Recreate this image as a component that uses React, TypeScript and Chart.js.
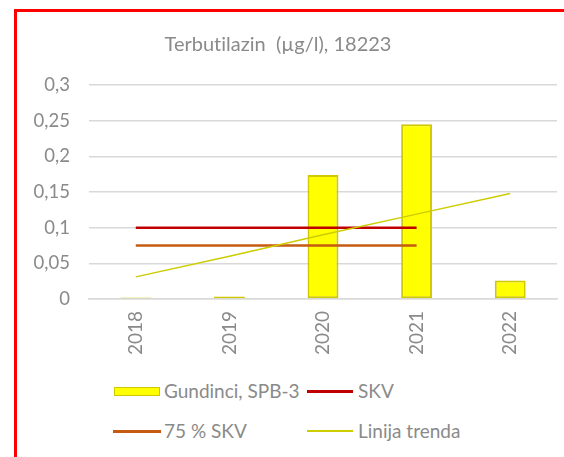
import React, { useEffect, useRef } from "react";
import { Chart, registerables } from "chart.js";

Chart.register(...registerables);

const categories = ["2018", "2019", "2020", "2021", "2022"];
const barValues = [0.002, 0.0035, 0.174, 0.245, 0.026];
const skvValues = [0.1, 0.1, 0.1, 0.1, null];
const skv75Values = [0.075, 0.075, 0.075, 0.075, null];
const trendValues = [0.031, 0.06, 0.09, 0.119, 0.148];
const yTicks = [0, 0.05, 0.1, 0.15, 0.2, 0.25, 0.3];

const FONT = "Lato, 'Open Sans', sans-serif";
const GRAY = "#8a8a8a";

export default function App() {
  const ref = useRef<HTMLCanvasElement | null>(null);

  useEffect(() => {
    if (!ref.current) return;
    const chart = new Chart(ref.current, {
      type: "bar",
      data: {
        labels: categories,
        datasets: [
          {
            type: "line",
            label: "SKV",
            data: skvValues,
            borderColor: "#C00000",
            borderWidth: 2.5,
            pointRadius: 0,
            order: 1,
          },
          {
            type: "line",
            label: "75 % SKV",
            data: skv75Values,
            borderColor: "#C55A11",
            borderWidth: 2.5,
            pointRadius: 0,
            order: 1,
          },
          {
            type: "line",
            label: "Linija trenda",
            data: trendValues,
            borderColor: "#CCCC00",
            borderWidth: 1.5,
            pointRadius: 0,
            order: 0,
          },
          {
            type: "bar",
            label: "Gundinci, SPB-3",
            data: barValues,
            backgroundColor: "#FFFF00",
            borderColor: "#D0C800",
            borderWidth: 2,
            borderSkipped: false,
            categoryPercentage: 1,
            barPercentage: 0.33,
            order: 2,
          },
        ],
      } as any,
      options: {
        animation: false,
        responsive: false,
        maintainAspectRatio: false,
        layout: { padding: { top: 85, right: 7, left: 0, bottom: 0 } },
        plugins: { legend: { display: false }, title: { display: false }, tooltip: { enabled: false } },
        scales: {
          x: {
            grid: { display: false, drawTicks: false },
            border: { color: "#D9D9D9", width: 1.5 },
            ticks: {
              color: GRAY,
              font: { family: FONT, size: 19 },
              minRotation: 90,
              maxRotation: 90,
              padding: 12,
            },
            afterFit: (s: any) => {
              s.height = 360 - 299;
            },
          },
          y: {
            min: 0,
            max: 0.3,
            afterBuildTicks: (s: any) => {
              s.ticks = yTicks.map((v) => ({ value: v }));
            },
            grid: { color: "#D9D9D9", lineWidth: 1.5, drawTicks: false },
            border: { display: false },
            ticks: {
              color: GRAY,
              font: { family: FONT, size: 18.5 },
              padding: 19,
              callback: (v: any) => String(v).replace(".", ","),
            },
            afterFit: (s: any) => {
              s.width = 89;
            },
          },
        },
      },
    });
    return () => chart.destroy();
  }, []);

  const legendText: React.CSSProperties = {
    position: "absolute",
    fontFamily: FONT,
    fontSize: 19,
    color: GRAY,
    lineHeight: "22px",
    whiteSpace: "nowrap",
    fontVariantLigatures: "none",
  };

  return (
    <div
      style={{
        position: "fixed",
        left: 0,
        top: 0,
        width: 564,
        height: 457,
        overflow: "hidden",
        background: "#fff",
      }}
    >
      <div
        style={{
          position: "absolute",
          left: 14,
          top: 9,
          width: 700,
          height: 600,
          border: "3px solid #FF0000",
          boxSizing: "border-box",
        }}
      />
      <canvas
        ref={ref}
        width={564}
        height={360}
        style={{ position: "absolute", left: 0, top: 0, width: 564, height: 360 }}
      />
      <div
        style={{
          position: "absolute",
          left: 0,
          width: 556,
          top: 30,
          textAlign: "center",
          fontFamily: FONT,
          fontSize: 20,
          lineHeight: "26px",
          color: GRAY,
          whiteSpace: "pre",
          fontVariantLigatures: "none",
        }}
      >
        {"Terbutilazin  (µg/l), 18223"}
      </div>
      {/* legend */}
      <div
        style={{
          position: "absolute",
          left: 114,
          top: 387,
          width: 44,
          height: 7,
          background: "#FFFF00",
          border: "1.5px solid #D0C800",
        }}
      />
      <div style={{ ...legendText, left: 164, top: 380 }}>Gundinci, SPB-3</div>
      <div style={{ position: "absolute", left: 307, top: 390, width: 46, height: 3, background: "#C00000" }} />
      <div style={{ ...legendText, left: 358, top: 380 }}>SKV</div>
      <div style={{ position: "absolute", left: 113, top: 430, width: 48, height: 3, background: "#C55A11" }} />
      <div style={{ ...legendText, left: 164, top: 420 }}>75 % SKV</div>
      <div style={{ position: "absolute", left: 307, top: 430, width: 46, height: 2, background: "#CCCC00" }} />
      <div style={{ ...legendText, left: 358, top: 420 }}>Linija trenda</div>
    </div>
  );
}
